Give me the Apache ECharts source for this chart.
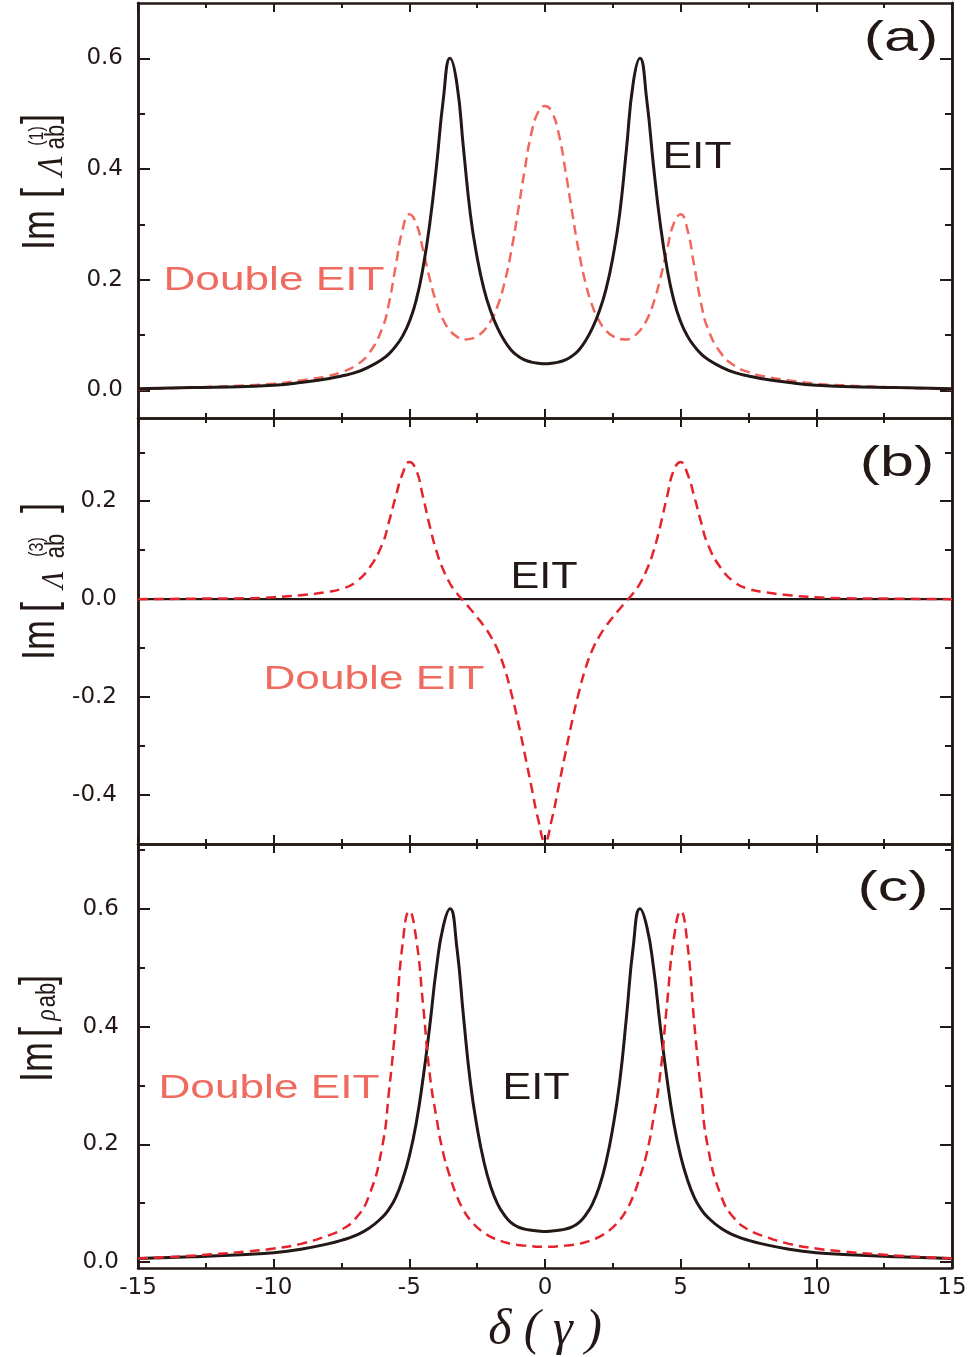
<!DOCTYPE html>
<html><head><meta charset="utf-8">
<script src="https://cdn.jsdelivr.net/npm/echarts@6/dist/echarts.min.js"></script>
<style>html,body{margin:0;padding:0;background:#fff}#c{width:972px;height:1357px}</style>
</head><body><div id="c"></div>
<script>
// detuning grid (delta in units of gamma)
const X = [-15,-13,-11,-10,-9,-8,-7.5,-7,-6.5,-6,-5.75,-5.5,-5.25,-5,-4.75,-4.5,-4.25,-4,-3.75,-3.5,-3.25,-3,-2.75,-2.5,-2.25,-2,-1.75,-1.5,-1.25,-1,-0.75,-0.5,-0.25,0,
  0.25,0.5,0.75,1,1.25,1.5,1.75,2,2.25,2.5,2.75,3,3.25,3.5,3.75,4,4.25,4.5,4.75,5,5.25,5.5,5.75,6,6.5,7,7.5,8,9,10,11,13,15];
// panel (a) Im[Lambda(1)_ab]
const A_EIT = [0.003,0.005,0.007,0.009,0.014,0.021,0.026,0.032,0.042,0.056,0.066,0.080,0.098,0.124,0.162,0.220,0.300,0.405,0.525,0.600,0.555,0.435,0.318,0.240,0.183,0.143,0.113,0.090,0.073,0.062,0.055,0.051,0.049,0.048,
  0.049,0.051,0.055,0.062,0.073,0.090,0.113,0.143,0.183,0.240,0.318,0.435,0.555,0.600,0.525,0.405,0.300,0.220,0.162,0.124,0.098,0.080,0.066,0.056,0.042,0.032,0.026,0.021,0.014,0.009,0.007,0.005,0.003];
const A_DEIT = [0.002,0.005,0.009,0.012,0.018,0.026,0.033,0.044,0.066,0.112,0.158,0.225,0.290,0.318,0.302,0.255,0.202,0.158,0.127,0.108,0.097,0.092,0.093,0.098,0.108,0.125,0.152,0.193,0.250,0.322,0.398,0.465,0.503,0.514,
  0.503,0.465,0.398,0.322,0.250,0.193,0.152,0.125,0.108,0.098,0.093,0.092,0.097,0.108,0.127,0.158,0.202,0.255,0.302,0.318,0.290,0.225,0.158,0.112,0.066,0.044,0.033,0.026,0.018,0.012,0.009,0.005,0.002];
// panel (b) Im[Lambda(3)_ab]
const B_EIT_X = [-15, 0, 15];
const B_EIT = [0, 0, 0];
const B_DEIT = [0.000,0.001,0.002,0.004,0.008,0.015,0.021,0.034,0.062,0.112,0.158,0.210,0.256,0.280,0.264,0.210,0.150,0.098,0.060,0.032,0.012,-0.004,-0.020,-0.037,-0.055,-0.076,-0.103,-0.140,-0.190,-0.249,-0.315,-0.383,-0.450,-0.495,
  -0.450,-0.383,-0.315,-0.249,-0.190,-0.140,-0.103,-0.076,-0.055,-0.037,-0.020,-0.004,0.012,0.032,0.060,0.098,0.150,0.210,0.264,0.280,0.256,0.210,0.158,0.112,0.062,0.034,0.021,0.015,0.008,0.004,0.002,0.001,0.000];
// panel (c) Im[rho_ab]
const C_EIT = [0.006,0.009,0.013,0.016,0.022,0.031,0.037,0.045,0.057,0.076,0.090,0.110,0.140,0.180,0.235,0.310,0.400,0.500,0.570,0.600,0.535,0.415,0.305,0.228,0.170,0.128,0.099,0.080,0.067,0.060,0.056,0.054,0.053,0.052,
  0.053,0.054,0.056,0.060,0.067,0.080,0.099,0.128,0.170,0.228,0.305,0.415,0.535,0.600,0.570,0.500,0.400,0.310,0.235,0.180,0.140,0.110,0.090,0.076,0.057,0.045,0.037,0.031,0.022,0.016,0.013,0.009,0.006];
const C_DEIT = [0.006,0.011,0.018,0.023,0.031,0.045,0.055,0.073,0.111,0.196,0.290,0.406,0.540,0.596,0.550,0.440,0.320,0.245,0.185,0.145,0.112,0.088,0.071,0.059,0.050,0.043,0.038,0.034,0.031,0.029,0.028,0.027,0.026,0.026,
  0.026,0.027,0.028,0.029,0.031,0.034,0.038,0.043,0.050,0.059,0.071,0.088,0.112,0.145,0.185,0.245,0.320,0.440,0.550,0.596,0.540,0.406,0.290,0.196,0.111,0.073,0.055,0.045,0.031,0.023,0.018,0.011,0.006];
// axis ranges and tick labels
const X_MIN = -15, X_MAX = 15, X_STEP = 5;
const Y_MIN = [-0.05, -0.5, -0.01];
const Y_MAX = [0.7, 0.37, 0.71];
const Y_MAJOR = [[0, 0.2, 0.4, 0.6], [-0.4, -0.2, 0, 0.2], [0, 0.2, 0.4, 0.6]];
const Y_MINOR = [[0.1, 0.3, 0.5], [-0.3, -0.1, 0.1, 0.3], [0.1, 0.3, 0.5, 0.7]];

const INK = '#231815';
const RED_A = '#f2675d';
const RED = '#e6232a';
const LABEL_RED = '#ef6b5f';
const pts = (xs, ys) => xs.map((x, i) => [x, ys[i]]);

const grids = [
  {left: 138, top: 3, width: 814, height: 415},
  {left: 138, top: 418, width: 814, height: 426},
  {left: 138, top: 844, width: 814, height: 424}
].map(g => Object.assign(g, {outerBoundsMode: 'none', containLabel: false}));

function xAx(gi, pos, labels) {
  return {
    type: 'value', gridIndex: gi, position: pos, min: X_MIN, max: X_MAX, interval: X_STEP,
    axisLine: {show: true, onZero: false, lineStyle: {color: INK, width: 2.5}},
    axisTick: {show: true, inside: true, length: 9, lineStyle: {color: INK, width: 2}},
    minorTick: {show: true, splitNumber: 2, length: 5, lineStyle: {color: INK, width: 2}},
    axisLabel: {show: labels, margin: 9, fontSize: 23, fontFamily: 'DejaVu Sans', color: INK},
    splitLine: {show: false}, minorSplitLine: {show: false},
    name: labels ? 'δ ( γ )' : '', nameLocation: 'middle', nameGap: 38,
    nameTextStyle: {fontSize: 50, fontFamily: 'Liberation Serif', fontStyle: 'italic', color: INK}
  };
}
function yAx(gi, pos, ticks, len, labels, margin) {
  return {
    type: 'value', gridIndex: gi, position: pos, min: Y_MIN[gi], max: Y_MAX[gi],
    axisLine: {show: true, onZero: false, lineStyle: {color: INK, width: 2.5}},
    axisTick: {show: true, inside: true, length: len, customValues: ticks, lineStyle: {color: INK, width: 2}},
    axisLabel: {show: labels, customValues: ticks, margin: margin, formatter: v => v.toFixed(1),
      fontSize: 23, fontFamily: 'DejaVu Sans', color: INK},
    splitLine: {show: false}
  };
}
const xAxis = [], yAxis = [];
const LM = [15, 21, 19];
for (let g = 0; g < 3; g++) {
  xAxis.push(xAx(g, 'bottom', g === 2));
  xAxis.push(xAx(g, 'top', false));
  yAxis.push(yAx(g, 'left', Y_MAJOR[g], 12, true, LM[g]));
  yAxis.push(yAx(g, 'left', Y_MINOR[g], 7, false, 8));
  yAxis.push(yAx(g, 'right', Y_MAJOR[g], 12, false, 8));
  yAxis.push(yAx(g, 'right', Y_MINOR[g], 7, false, 8));
}
function line(g, data, color, dashed, w) {
  return {
    type: 'line', xAxisIndex: 2 * g, yAxisIndex: 4 * g, data: data, showSymbol: false,
    smooth: 0.5, silent: true,
    lineStyle: {color: color, width: w, type: dashed ? [10, 6] : 'solid'}
  };
}
const series = [
  line(0, pts(X, A_DEIT), RED_A, true, 2.5),
  line(0, pts(X, A_EIT), INK, false, 3),
  line(1, pts(B_EIT_X, B_EIT), INK, false, 2.4),
  line(1, pts(X, B_DEIT), RED, true, 2.5),
  line(2, pts(X, C_EIT), INK, false, 3),
  line(2, pts(X, C_DEIT), RED, true, 2.5)
];

function hText(t, cx, cy, fs, color, sx, family, fstyle) {
  return {type: 'text', x: cx, y: cy, scaleX: sx, z: 100,
    style: {text: t, fontSize: fs, fontFamily: family || 'Liberation Sans', fontStyle: fstyle || 'normal',
      fill: color, align: 'center', verticalAlign: 'middle', textAlign: 'center', textVerticalAlign: 'middle'}};
}
function vText(t, cx, cy, fs, sy, family, fstyle) {
  return {type: 'text', x: cx, y: cy, rotation: Math.PI / 2, scaleY: sy, z: 100,
    style: {text: t, fontSize: fs, fontFamily: family || 'Liberation Sans', fontStyle: fstyle || 'normal',
      fill: INK, align: 'center', verticalAlign: 'middle', textAlign: 'center', textVerticalAlign: 'middle'}};
}
const graphic = [
  // panel letters
  hText('(a)', 901, 39, 42, INK, 1.45),
  hText('(b)', 897, 464, 42, INK, 1.45),
  hText('(c)', 893, 889, 42, INK, 1.45),
  // curve labels
  hText('EIT', 697, 158, 37, INK, 1.2),
  hText('Double EIT', 274, 281, 34, LABEL_RED, 1.3),
  hText('EIT', 544, 578, 36, INK, 1.2),
  hText('Double EIT', 374, 680, 34, LABEL_RED, 1.3),
  hText('Double EIT', 269, 1089, 34, LABEL_RED, 1.3),
  hText('EIT', 536, 1089, 36, INK, 1.2),
  // y titles (a)
  vText('Im', 41.5, 230, 36, 1.3),
  vText('[', 41.5, 193, 36, 1.3),
  vText('Λ', 52, 166, 32, 1.15, 'Liberation Serif', 'italic'),
  vText('(1)', 37, 136, 16, 1.3),
  vText('ab', 56, 137, 22, 1.25),
  vText(']', 41.5, 119, 36, 1.3),
  // y titles (b)
  vText('Im', 41.5, 640, 36, 1.3),
  vText('[', 41.5, 607, 36, 1.3),
  vText('Λ', 55, 580, 28, 1.15, 'Liberation Serif', 'italic'),
  vText('(3)', 37, 547, 16, 1.3),
  vText('ab', 56, 546, 22, 1.25),
  vText(']', 41.5, 508, 36, 1.3),
  // y titles (c)
  vText('Im', 39, 1062, 36, 1.3),
  vText('[', 39, 1032, 36, 1.3),
  vText('ρ', 47, 1015, 24, 1.25, 'Liberation Serif', 'italic'),
  vText('ab', 47, 995, 22, 1.25),
  vText(']', 39, 980, 36, 1.3)
];

const chart = echarts.init(document.getElementById('c'), null, {renderer: 'canvas'});
chart.setOption({
  animation: false, backgroundColor: '#fff',
  grid: grids, xAxis: xAxis, yAxis: yAxis, series: series, graphic: graphic
});
</script></body></html>
